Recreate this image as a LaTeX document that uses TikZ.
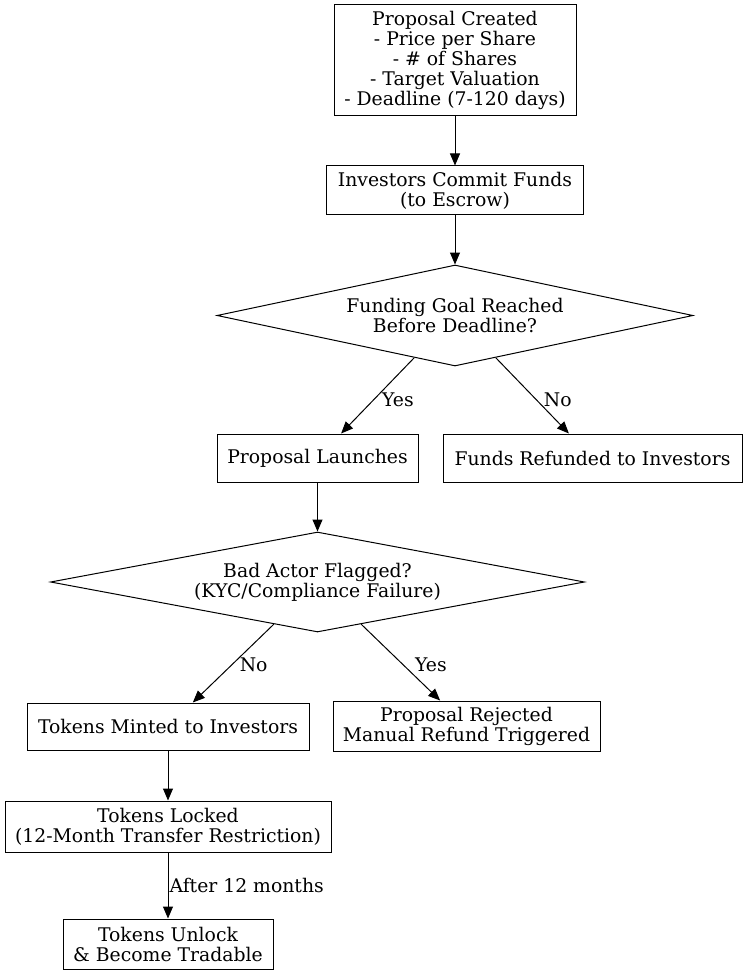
\documentclass[tikz,border=0pt]{standalone}
\usepackage{fontspec}
\setmainfont{DejaVu Serif}
\usetikzlibrary{shapes.geometric,arrows.meta}
\begin{document}
\begin{tikzpicture}[x=1pt,y=-1pt,
  txt/.style={font=\fontsize{18.8}{20}\selectfont},
  box/.style={txt, draw, rectangle, inner sep=0pt, align=center, line width=1pt},
  dec/.style={txt, draw, diamond, aspect=4.7, inner sep=0pt, align=center, line width=1pt},
  arr/.style={-{Triangle[length=12pt,width=10pt]}, line width=1pt},
  lbl/.style={txt, inner sep=0pt, anchor=west}]
\useasboundingbox[fill=white] (0,0) rectangle (747,976);
\node[box, minimum width=242pt, minimum height=111pt] (n1) at (455,60.5) {Proposal Created\\- Price per Share\\- \# of Shares\\- Target Valuation\\- Deadline (7-120 days)};
\node[box, minimum width=257pt, minimum height=49pt] (n2) at (455,190.5) {Investors Commit Funds\\(to Escrow)};
\node[dec, minimum width=476pt, minimum height=101pt] (d1) at (455,315.5) {Funding Goal Reached\\Before Deadline?};
\node[box, minimum width=201pt, minimum height=48pt] (n3) at (317.5,458) {Proposal Launches};
\node[box, minimum width=299pt, minimum height=48pt] (n4) at (592.5,458) {Funds Refunded to Investors};
\node[dec, minimum width=534pt, minimum height=100pt] (d2) at (317.5,582) {Bad Actor Flagged?\\(KYC/Compliance Failure)};
\node[box, minimum width=282pt, minimum height=47pt] (n5) at (168,726.5) {Tokens Minted to Investors};
\node[box, minimum width=267pt, minimum height=50pt] (n6) at (466.5,726) {Proposal Rejected\\Manual Refund Triggered};
\node[box, minimum width=326pt, minimum height=51pt] (n7) at (168,826.5) {Tokens Locked\\(12-Month Transfer Restriction)};
\node[box, minimum width=210pt, minimum height=50pt] (n8) at (168,944) {Tokens Unlock\\\& Become Tradable};
\draw[arr] (n1) -- (n2);
\draw[arr] (n2) -- (d1);
\draw[arr] (d1) -- node[lbl, xshift=4pt, yshift=-4pt] {Yes} (n3);
\draw[arr] (d1) -- node[lbl, xshift=11pt, yshift=-4pt] {No} (n4);
\draw[arr] (n3) -- (d2);
\draw[arr] (d2) -- node[lbl, xshift=6pt, yshift=-1pt] {No} (n5);
\draw[arr] (d2) -- node[lbl, xshift=14pt, yshift=-2pt] {Yes} (n6);
\draw[arr] (n5) -- (n7);
\draw[arr] (n7) -- node[lbl, xshift=1pt] {After 12 months} (n8);
\end{tikzpicture}
\end{document}
